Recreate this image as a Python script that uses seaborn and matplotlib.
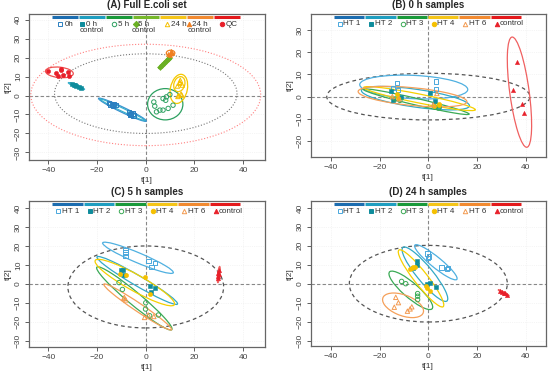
import matplotlib
matplotlib.use("Agg")
import matplotlib.pyplot as plt
from matplotlib.patches import Ellipse
import numpy as np
import pandas as pd
import seaborn as sns

sns.set_style("ticks")
plt.rcParams["font.family"] = ["Liberation Sans", "DejaVu Sans"]

# ---------------- data ----------------
# Panel A: full set
a_labels = ["0h", "0 h\ncontrol", "5 h", "5 h\ncontrol", "24 h", "24 h\ncontrol", "QC"]
a_x = [[-15, -14, -13, -13.5, -12.5, -14.5, -7, -6, -5.5, -5, -6.5, -6.2],
       [-30.5, -29.5, -28.5, -27.5, -26.5, -29],
       [3.3, 4.4, 7.1, 8.5, 9.9, 7.1, 9.2, 11.2, 3.7, 8.2, 5.8],
       [5.8, 6.6, 7.4, 8.2, 9.0, 9.6],
       [13, 14, 15, 14.2, 13.5, 14.5, 13.2, 14.8, 14],
       [9.3, 10.2, 10.8, 9.8, 10.5],
       [-40, -37, -35, -36, -34, -32, -31.5, -35]]
a_y = [[-4, -5, -4.5, -5.5, -5, -4.8, -9, -10, -9.5, -10.5, -10.2, -9.6],
       [6, 5.4, 5, 4.4, 3.9, 5.6],
       [-3.4, -8.6, -1.6, -0.7, 0.5, -7.7, -6.8, -5.1, -5.6, -2.5, -7.7],
       [15, 16, 17.2, 18.2, 19.2, 20],
       [5, 6.5, 5.5, 8, 0, 0.8, -0.5, 0.2, 7],
       [22, 22.8, 22.3, 21.5, 23.3],
       [13, 12, 13.5, 10.5, 11, 12.5, 10.5, 14]]
# ellipses: group index, centre x, centre y, major, minor, angle
a_ell = [(6, -35.5, 12.2, 11.5, 5.5, -8),
         (1, -28.5, 5, 7.5, 1.2, -28),
         (0, -9.6, -7.5, 23, 2.6, -31.6),
         (1, -9.6, -7.5, 22, 1.6, -31.6),
         (2, 8, -4.6, 14.5, 16.5, 0),
         (4, 13.6, 3.5, 7, 15.5, -8),
         (4, 13.8, 6, 4.5, 8, -10),
         (5, 10.2, 22.4, 3.5, 3, 0),
         (3, 7.7, 17.4, 8, 0.6, 53)]
a_key_mx = [0.131, 0.226, 0.360, 0.453, 0.583, 0.679, 0.816]
a_key_tx = [0.150, 0.266, 0.378, 0.484, 0.600, 0.725, 0.834]

# Panels B-D: heat treatments
ht_labels = ["HT 1", "HT 2", "HT 3", "HT 4", "HT 6", "control"]

b_x = [[-13, -14.5, -12.5, 3.2, 3.2, 2.5],
       [-15.5, -14.4, -11.2, 0.7, 2.8, 4.5],
       [-11.7, -13.5, 2.8, 4.2, 3.5],
       [-13, -12.3, 4.2, 2.5, 4.5],
       [-14.8, -12, 2, 3.5],
       [36.6, 35, 38.7, 39.3]]
b_y = [[6, 4, 3, 6.8, 3.5, -4],
       [2.3, -1.5, 0, 1.8, -1.9, -4.2],
       [-1.7, -1.1, -4.8, -5.2, -4.2],
       [1, -0.5, -3.4, -4.2, -3.6],
       [0, -1, -3.7, 1.4],
       [15.8, 3, -3.3, -7.5]]
b_ell = [(0, -6, 4.3, 44.5, 10.5, -3),
         (1, -5.3, -0.7, 45, 8, -9),
         (2, -5, -2.3, 45, 3, -14.4),
         (3, -3.6, -0.9, 47, 4, -12.4),
         (4, -6.5, 0, 45, 8, -6),
         (5, 37.5, 2, 50, 8, 97)]

c_x = [[-8.4, -8.3, -8.4, 1.2, 3.7, 2.3],
       [-9.3, -10, -9, 1.9, 3.7, 2.3],
       [-11, -9.6, 0, -0.1, 1.6, 5.2],
       [-10.4, -8.2, -0.3, 1.9],
       [-9.1, -8.2, -8.8, 1, 3.3, -0.5],
       [30, 29.8, 29.6, 29.5, 30.2]]
c_y = [[17.8, 16.5, 14.8, 12.2, 11.2, 9],
       [7.6, 7.6, 4.6, -1, -1.9, -4.4],
       [0.8, -2.8, -9.8, -13.1, -16.6, -16.2],
       [5.5, 4.6, 3.8, -5.2],
       [-7.5, -8.3, -7, -16.2, -17, -17.5],
       [7.5, 6, 4.5, 3, 5.5]]
c_ell = [(0, -3.2, 13.8, 33, 5, -28.6),
         (1, -3.5, 1.9, 41.3, 5, -37),
         (2, -4.7, -7.5, 45, 6, -47),
         (3, -4.5, 0.8, 40, 8, -36),
         (4, -3.3, -12, 36.7, 4, -40.8),
         (5, 30, 5, 8.5, 1, 85)]

d_x = [[-0.4, 0.4, -0.1, 5.5, 7.6, 8],
       [-4.8, -4.8, -6.2, -0.7, 0.7, 3],
       [-11, -9.3, -4.4, -4.4, -4.4],
       [-6.8, -6.2, -5.5, -7.5, -0.7, 0.7, -1],
       [-13.4, -12.3, -14, -6.8, -7.5, -8.6],
       [29.5, 30.5, 31.5, 32.5, 31]]
d_y = [[16, 14.3, 13.5, 8.5, 7.6, 8.3],
       [11.7, 10, 8.3, 0, 0.5, -1.8],
       [1.2, 0, -5.2, -6.6, -8.4],
       [8.2, 8.7, 9, 7.9, -2.3, -4, -1],
       [-7.2, -10, -12.4, -12.2, -13.3, -14.5],
       [-3.8, -4.5, -5, -6, -4.8]]
d_ell = [(0, 3.1, 11.3, 25, 5, -46.8),
         (1, -1.4, 5, 33.6, 7, -57.9),
         (2, -7.2, -3.5, 26.2, 7, -48.9),
         (3, -3, 2.8, 35, 6, -59),
         (4, -10.4, -11.4, 18.5, 10.5, -30),
         (5, 31, -4.8, 5.5, 0.8, -36)]

# Hotelling ellipses: centre x, centre y, width, height
a_t2 = [(0, 1, 75, 42), (0, 0.3, 94.5, 53.5)]
b_t2 = (0, 0, 83.6, 21)
c_t2 = (0, -1.5, 64, 43)
d_t2 = (0, 0, 65, 40.4)

# ---------------- styles ----------------
a_bar = ["#1c6db0", "#1f9ec0", "#1a9a3a", "#76b82a", "#f5c518", "#f28a30", "#e41a1c"]
a_col = ["#2a7fc0", "#0e8c9c", "#2ca060", "#6ab023", "#f5c000", "#f07f20", "#e8202a"]
a_ecol = ["#3a8fd0", "#3ab0cc", "#2ca060", "#6ab023", "#f5c800", "#f07f20", "#f05050"]
a_mk = ["s", "s", "o", "D", "^", "^", "o"]
a_fill = [False, True, False, True, False, True, True]

ht_bar = ["#1c6db0", "#1f9ec0", "#1a9a3a", "#f5c518", "#f28a30", "#e41a1c"]
ht_col = ["#4aa8dc", "#0e8c9c", "#3aaa55", "#f5c000", "#f39a50", "#e8202a"]
ht_ecol = ["#4fb0e0", "#32a9c6", "#3aaa55", "#f5d000", "#f5a05a", "#f06060"]
ht_mk = ["s", "s", "o", "o", "^", "^"]
ht_fill = [False, True, False, True, False, True]

fig = plt.figure(figsize=(5.5, 3.74), dpi=100)
ax_a = fig.add_axes([0.0527, 0.5722, 0.4291, 0.3904])
ax_b = fig.add_axes([0.5649, 0.5802, 0.4273, 0.3824])
ax_c = fig.add_axes([0.0527, 0.0722, 0.4291, 0.3904])
ax_d = fig.add_axes([0.5649, 0.0741, 0.4273, 0.3885])


def base(ax, title, xlim, ylim, yticks):
    ax.set_xlim(*xlim)
    ax.set_ylim(*ylim)
    ax.set_xticks([-40, -20, 0, 20, 40])
    ax.set_yticks(yticks)
    ax.grid(True, color="#ececec", lw=0.5, ls=":")
    ax.axhline(0, color="#888888", lw=0.8, ls=(0, (3, 2)), zorder=1)
    ax.axvline(0, color="#888888", lw=0.8, ls=(0, (3, 2)), zorder=1)
    for s in ax.spines.values():
        s.set_color("#666666")
        s.set_linewidth(0.9)
    ax.tick_params(direction="out", length=3, width=0.6, colors="#444444",
                   labelsize=6, pad=2)
    for t in ax.get_yticklabels():
        t.set_rotation(90)
        t.set_va("center")
    ax.set_title(title, fontsize=7, fontweight="bold", pad=4)
    ax.set_xlabel("t[1]", fontsize=6, labelpad=2, color="#333333")
    ax.set_ylabel("t[2]", fontsize=6, labelpad=2, color="#333333")


def points(ax, xs, ys, cols, mks, fills):
    for x, y, c, m, f in zip(xs, ys, cols, mks, fills):
        df = pd.DataFrame({"t1": x, "t2": y})
        if f:
            sns.scatterplot(data=df, x="t1", y="t2", ax=ax, marker=m, color=c,
                            edgecolor=c, s=9, linewidth=0.4, legend=False, zorder=4)
        else:
            sns.scatterplot(data=df, x="t1", y="t2", ax=ax, marker=m, color="none",
                            edgecolor=c, s=10, linewidth=0.7, legend=False, zorder=4)


def ellipses(ax, ells, cols):
    for g, cx, cy, w, h, ang in ells:
        ax.add_patch(Ellipse((cx, cy), w, h, angle=ang, fill=False,
                             edgecolor=cols[g], lw=0.9, zorder=3))


def key(ax, labels, bars, cols, mks, fills, mx, tx, ha):
    n = len(bars)
    x0, x1 = 0.098, 0.900
    step = (x1 - x0) / n
    for i in range(n):
        ax.plot([x0 + i * step, x0 + (i + 1) * step - 0.004], [0.978, 0.978],
                color=bars[i], lw=2.2, transform=ax.transAxes, solid_capstyle="butt",
                zorder=5)
        ax.plot([mx[i]], [0.93], marker=mks[i], ms=3.2, transform=ax.transAxes,
                color=cols[i], mfc=cols[i] if fills[i] else "none",
                mew=0.7, ls="none", zorder=5)
        two = "\n" in labels[i]
        ax.text(tx[i], 0.905 if two else 0.93, labels[i],
                transform=ax.transAxes, fontsize=5.8,
                ha="center" if two else ha, va="center",
                color="#333333", linespacing=0.85, zorder=5)


# Panel A
base(ax_a, "(A) Full E.coli set", (-48, 49), (-34, 43), [-30, -20, -10, 0, 10, 20, 30, 40])
ax_a.add_patch(Ellipse(a_t2[0][:2], a_t2[0][2], a_t2[0][3], fill=False,
                       edgecolor="#777777", lw=0.8, ls=":", zorder=2))
ax_a.add_patch(Ellipse(a_t2[1][:2], a_t2[1][2], a_t2[1][3], fill=False,
                       edgecolor="#ff8080", lw=0.8, ls=":", zorder=2))
ellipses(ax_a, a_ell, a_ecol)
points(ax_a, a_x, a_y, a_col, a_mk, a_fill)
key(ax_a, a_labels, a_bar, a_col, a_mk, a_fill, a_key_mx, a_key_tx, "left")

ht_mx = [0.125 + 0.1333 * i for i in range(6)]
ht_tx = [m + 0.014 for m in ht_mx]

for ax, title, ylim, yt, xs, ys, ells, t2 in [
        (ax_b, "(B) 0 h samples", (-27.2, 37.2), [-20, -10, 0, 10, 20, 30], b_x, b_y, b_ell, b_t2),
        (ax_c, "(C) 5 h samples", (-33, 43.6), [-30, -20, -10, 0, 10, 20, 30, 40], c_x, c_y, c_ell, c_t2),
        (ax_d, "(D) 24 h samples", (-33, 43.6), [-30, -20, -10, 0, 10, 20, 30, 40], d_x, d_y, d_ell, d_t2)]:
    xlim = (-48.4, 48.3) if ax is not ax_c else (-48, 49)
    base(ax, title, xlim, ylim, yt)
    ax.add_patch(Ellipse(t2[:2], t2[2], t2[3], fill=False, edgecolor="#555555",
                         lw=0.9, ls=(0, (3, 2.5)), zorder=2))
    ellipses(ax, ells, ht_ecol)
    points(ax, xs, ys, ht_col, ht_mk, ht_fill)
    key(ax, ht_labels, ht_bar, ht_col, ht_mk, ht_fill, ht_mx, ht_tx, "left")

fig.savefig("out.png", dpi=100)
